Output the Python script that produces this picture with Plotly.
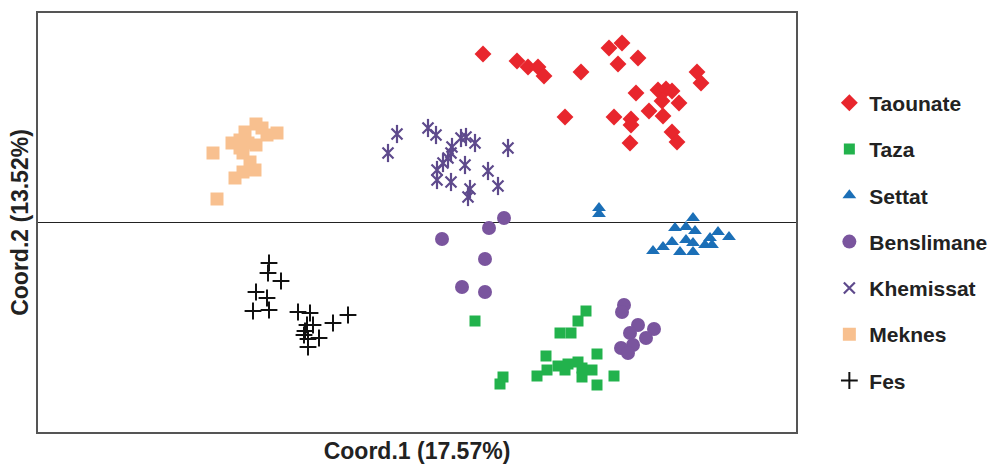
import plotly.graph_objects as go

# Principal coordinates (Coord.1, Coord.2) per population
taounate_x = [0.67, 1.01, 1.12, 1.22, 1.28, 1.65, 1.93, 2.06, 2.02, 2.22, 2.81, 2.85, 2.20, 2.42,
              2.50, 2.56, 2.46, 2.63, 2.33, 2.47, 1.49, 1.98, 2.15, 2.15, 2.56, 2.61, 2.14]
taounate_y = [1.68, 1.61, 1.55, 1.55, 1.46, 1.50, 1.74, 1.79, 1.58, 1.64, 1.50, 1.39, 1.29, 1.32,
              1.33, 1.31, 1.21, 1.19, 1.11, 1.06, 1.05, 1.05, 1.03, 0.97, 0.90, 0.80, 0.79]

taza_x = [0.59, 1.70, 1.62, 1.44, 1.55, 1.81, 1.30, 1.21, 1.31, 1.42, 1.52, 1.62, 1.66, 1.76,
          1.66, 1.81, 1.98, 0.87, 0.84, 1.49]
taza_y = [-0.99, -0.89, -0.99, -1.11, -1.11, -1.32, -1.34, -1.54, -1.48, -1.44, -1.42, -1.40,
          -1.46, -1.48, -1.55, -1.63, -1.54, -1.55, -1.62, -1.48]

settat_x = [1.83, 1.83, 2.77, 2.59, 2.70, 2.79, 3.02, 3.13, 2.94, 2.89, 2.96, 2.70, 2.77, 2.56,
            2.47, 2.37, 2.64, 2.77]
settat_y = [0.14, 0.08, 0.04, -0.06, -0.05, -0.09, -0.10, -0.15, -0.16, -0.23, -0.23, -0.18,
            -0.21, -0.20, -0.25, -0.29, -0.30, -0.30]

benslimane_x = [0.88, 0.73, 0.26, 0.69, 0.46, 0.69, 2.08, 2.06, 2.22, 2.14, 2.38, 2.30, 2.17,
                2.05, 2.12]
benslimane_y = [0.04, -0.06, -0.17, -0.37, -0.65, -0.70, -0.83, -0.90, -1.03, -1.11, -1.07,
                -1.16, -1.23, -1.26, -1.31]

khemissat_x = [-0.19, -0.28, 0.12, 0.20, 0.45, 0.50, 0.59, 0.36, 0.32, 0.27, 0.21, 0.49, 0.92,
               0.21, 0.35, 0.72, 0.82, 0.54, 0.52, 0.35]
khemissat_y = [0.88, 0.69, 0.94, 0.87, 0.84, 0.85, 0.79, 0.75, 0.64, 0.59, 0.52, 0.57, 0.74,
               0.42, 0.40, 0.51, 0.36, 0.33, 0.25, 0.69]

meknes_x = [-1.60, -1.71, -1.39, -1.49, -1.84, -1.68, -2.03, -1.73, -1.66, -1.61, -1.73, -1.81,
            -1.99, -1.76, -1.54, -1.60, -1.76]
meknes_y = [0.98, 0.90, 0.89, 0.87, 0.79, 0.79, 0.69, 0.69, 0.60, 0.52, 0.50, 0.44, 0.23, 0.82,
            0.94, 0.77, 0.74]

fes_x = [-1.47, -1.48, -1.35, -1.60, -1.49, -1.63, -1.47, -1.18, -1.06, -0.68, -0.83, -1.03,
         -1.09, -1.11, -1.12, -0.97, -1.08, -1.08]
fes_y = [-0.41, -0.51, -0.59, -0.70, -0.76, -0.89, -0.88, -0.90, -0.91, -0.93, -1.01, -1.03,
         -1.03, -1.09, -1.13, -1.16, -1.17, -1.25]

x_title = "Coord.1 (17.57%)"
y_title = "Coord.2 (13.52%)"

FONT = "Liberation Sans, Arial, sans-serif"

fig = go.Figure()

def add(name, xs, ys, symbol, color, size, line_w=0, group=None, showlegend=True):
    fig.add_trace(go.Scatter(
        x=xs, y=ys, mode="markers", name=name,
        legendgroup=group or name, showlegend=showlegend,
        marker=dict(symbol=symbol, color=color, size=size,
                    line=dict(width=line_w, color=color)),
        hoverinfo="skip",
    ))

add("Taounate", taounate_x, taounate_y, "diamond", "#E8262D", 13)
add("Taza", taza_x, taza_y, "square", "#22B24C", 11)
add("Settat", settat_x, settat_y, "triangle-up", "#1B6FB7", 12)
add("Benslimane", benslimane_x, benslimane_y, "circle", "#7A559E", 14)
add("Khemissat", khemissat_x, khemissat_y, "x-thin-open", "#5E4A8C", 11, 2.2)
add("Khemissat", khemissat_x, khemissat_y, "line-ns-open", "#5E4A8C", 13, 2.2,
    group="Khemissat", showlegend=False)
add("Meknes", meknes_x, meknes_y, "square", "#F8C08F", 13)
add("Fes", fes_x, fes_y, "cross-thin-open", "#111111", 12, 2)

fig.update_layout(
    width=997, height=465,
    margin=dict(l=38, r=201, t=13, b=33, autoexpand=False),
    paper_bgcolor="white", plot_bgcolor="white",
    font=dict(family=FONT, color="#222222"),
    showlegend=True,
    legend=dict(
        x=1.044, xanchor="left", xref="paper",
        y=0.834, yanchor="top",
        font=dict(size=21, family=FONT, color="#222222", weight="bold"),
        tracegroupgap=16, itemwidth=30,
        bgcolor="rgba(0,0,0,0)",
    ),
    xaxis=dict(
        range=[-3.78, 3.80], showgrid=False, zeroline=False, showticklabels=False, ticks="",
        showline=True, mirror=True, linecolor="#555555", linewidth=1.5, automargin=False,
        title=dict(text=x_title, standoff=10,
                   font=dict(size=23, family=FONT, color="#222222", weight="bold")),
    ),
    yaxis=dict(
        range=[-2.10, 2.09], showgrid=False, zeroline=True, zerolinecolor="#222222", zerolinewidth=1.3,
        showticklabels=False, ticks="", automargin=False,
        showline=True, mirror=True, linecolor="#555555", linewidth=1.5,
        title=dict(text=y_title, standoff=1,
                   font=dict(size=23, family=FONT, color="#222222", weight="bold")),
    ),
)

fig.write_html("out.html", config={"displayModeBar": False},
               post_script="document.body.style.margin='0';")
